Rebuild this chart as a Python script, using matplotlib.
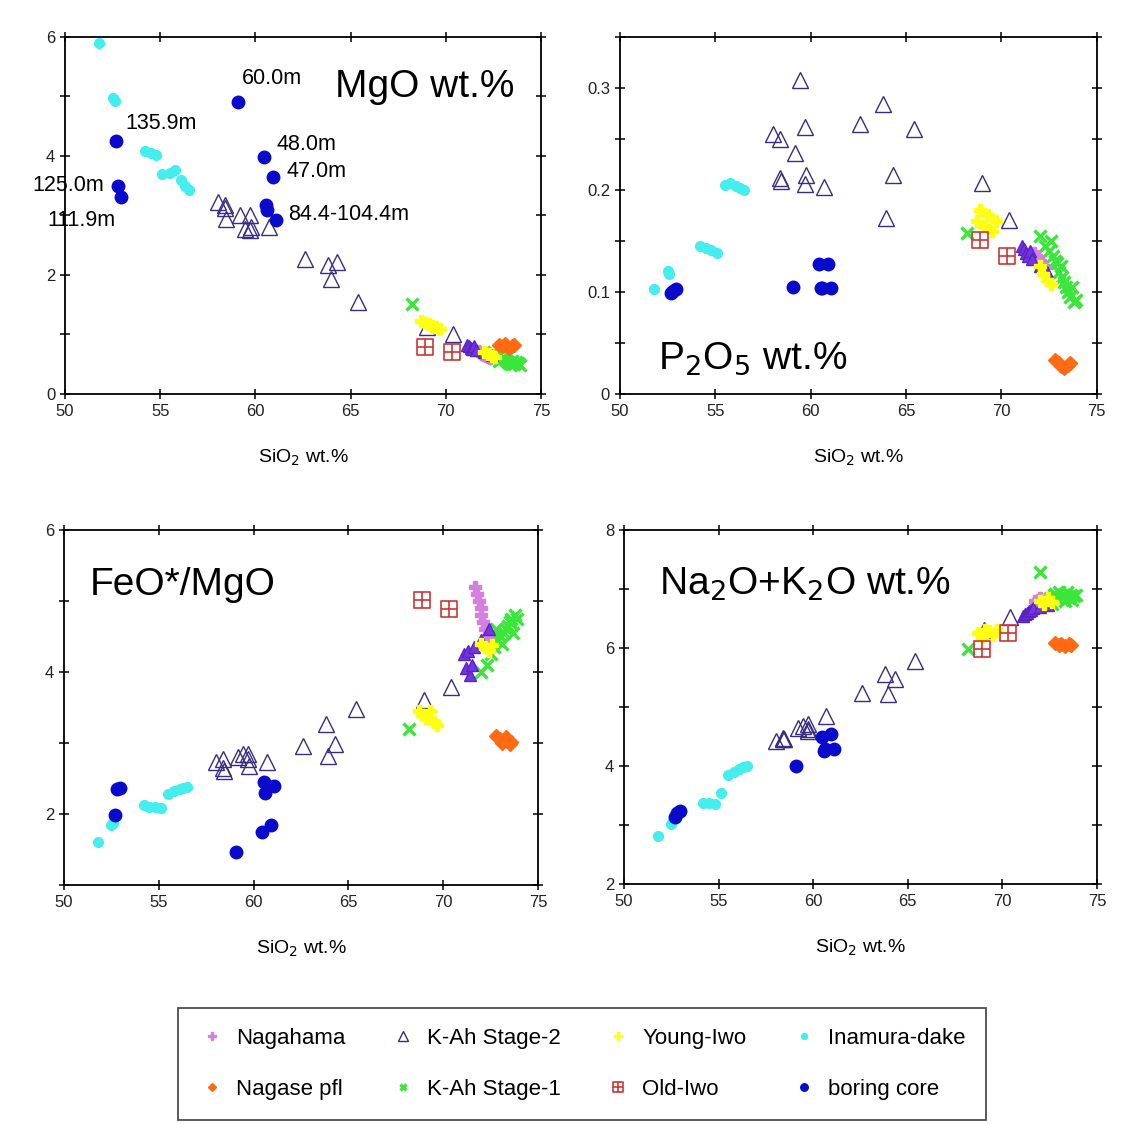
import matplotlib.pyplot as plt
import numpy as np
from matplotlib.path import Path

plt.rcParams['font.family'] = ['Liberation Sans', 'DejaVu Sans']

# boring core samples
core_si = [59.09, 52.68, 60.45, 60.92, 52.78, 52.95, 60.56, 60.62, 61.08]
core_mgo = [4.91, 4.25, 3.98, 3.65, 3.50, 3.31, 3.18, 3.10, 2.92]
core_p2o5 = [0.105, 0.099, 0.127, 0.127, 0.101, 0.103, 0.104, 0.104, 0.104]
core_fm = [1.46, 1.99, 1.75, 1.84, 2.35, 2.36, 2.45, 2.30, 2.40]
core_alk = [4.00, 3.13, 4.49, 4.55, 3.20, 3.24, 4.26, 4.28, 4.29]
core_depth = ['60.0m', '135.9m', '48.0m', '47.0m', '125.0m', '111.9m', '', '', '84.4-104.4m']

# Inamura-dake
ina_si = [51.8, 52.5, 52.6, 54.2, 54.5, 54.8, 55.1, 55.5, 55.8, 56.1, 56.3, 56.5]
ina_mgo = [5.90, 4.97, 4.93, 4.08, 4.05, 4.02, 3.70, 3.72, 3.76, 3.60, 3.50, 3.42]
ina_p2o5 = [0.103, 0.121, 0.118, 0.145, 0.143, 0.141, 0.138, 0.205, 0.207, 0.204, 0.202, 0.200]
ina_fm = [1.60, 1.85, 1.88, 2.12, 2.10, 2.10, 2.08, 2.28, 2.32, 2.35, 2.37, 2.38]
ina_alk = [2.82, 3.02, 3.08, 3.38, 3.38, 3.36, 3.55, 3.85, 3.90, 3.95, 3.98, 4.00]

# K-Ah Stage-2
st2_si = [58.03, 58.4, 58.4, 58.45, 59.18, 59.45, 59.7, 59.75, 59.7, 60.7,
          62.6, 63.8, 63.95, 64.3, 65.4, 69.0, 70.4]
st2_mgo = [3.22, 3.17, 3.12, 2.94, 3.00, 2.78, 3.00, 2.80, 2.75, 2.80,
           2.27, 2.16, 1.93, 2.22, 1.55, 1.12, 1.00]
st2_p2o5 = [0.255, 0.250, 0.212, 0.209, 0.236, 0.308, 0.262, 0.215, 0.206, 0.203,
            0.265, 0.284, 0.173, 0.215, 0.260, 0.207, 0.171]
st2_fm = [2.73, 2.78, 2.65, 2.61, 2.80, 2.85, 2.85, 2.68, 2.78, 2.73,
          2.96, 3.27, 2.82, 2.99, 3.48, 3.60, 3.79]
st2_alk = [4.43, 4.46, 4.48, 4.45, 4.65, 4.68, 4.71, 4.60, 4.62, 4.85,
           5.23, 5.56, 5.22, 5.47, 5.78, 6.30, 6.52]

# K-Ah Stage-2, rhyolitic cluster
st2r_si = [71.1, 71.2, 71.3, 71.4, 71.5, 71.6, 72.0, 72.4]
st2r_mgo = [0.82, 0.80, 0.78, 0.76, 0.80, 0.74, 0.70, 0.66]
st2r_p2o5 = [0.145, 0.142, 0.138, 0.135, 0.140, 0.132, 0.125, 0.120]
st2r_fm = [4.25, 4.05, 4.30, 3.95, 4.10, 4.35, 4.45, 4.60]
st2r_alk = [6.55, 6.58, 6.60, 6.62, 6.65, 6.68, 6.70, 6.72]

# Nagahama
nag_si = [71.7, 71.8, 71.9, 72.0, 72.0, 72.1, 72.2, 72.3]
nag_mgo = [0.72, 0.70, 0.68, 0.66, 0.65, 0.64, 0.62, 0.60]
nag_p2o5 = [0.138, 0.135, 0.132, 0.130, 0.128, 0.127, 0.125, 0.124]
nag_fm = [5.20, 5.10, 5.00, 4.90, 4.80, 4.70, 4.60, 4.50]
nag_alk = [6.80, 6.78, 6.82, 6.76, 6.84, 6.80, 6.78, 6.75]

# Young-Iwo
yi_si = [68.7, 68.9, 69.1, 69.3, 69.5, 69.7, 72.0, 72.2, 72.4, 72.6]
yi_mgo = [1.22, 1.20, 1.18, 1.15, 1.12, 1.10, 0.70, 0.68, 0.64, 0.62]
yi_p2o5 = [0.170, 0.180, 0.165, 0.175, 0.160, 0.170, 0.125, 0.118, 0.112, 0.108]
yi_fm = [3.45, 3.40, 3.35, 3.45, 3.30, 3.25, 4.40, 4.35, 4.30, 4.38]
yi_alk = [6.25, 6.20, 6.30, 6.28, 6.22, 6.30, 6.80, 6.75, 6.85, 6.78]

# Nagase pfl
ngs_si = [72.8, 73.0, 73.1, 73.3, 73.5, 73.6]
ngs_mgo = [0.82, 0.80, 0.84, 0.78, 0.80, 0.83]
ngs_p2o5 = [0.033, 0.030, 0.027, 0.025, 0.028, 0.030]
ngs_fm = [3.10, 3.05, 3.00, 3.08, 2.98, 3.02]
ngs_alk = [6.08, 6.05, 6.07, 6.04, 6.06, 6.05]

# K-Ah Stage-1
st1_si = [68.2, 72.0, 72.3, 72.5, 72.7, 72.9, 73.0, 73.2, 73.3, 73.5, 73.6, 73.8,
          72.6, 72.8, 73.1, 73.4, 73.7, 73.9]
st1_mgo = [1.52, 0.70, 0.66, 0.64, 0.62, 0.58, 0.60, 0.56, 0.52, 0.55, 0.50, 0.52,
           0.60, 0.55, 0.58, 0.50, 0.54, 0.49]
st1_p2o5 = [0.158, 0.155, 0.145, 0.140, 0.135, 0.128, 0.120, 0.115, 0.110, 0.100, 0.095, 0.090,
            0.150, 0.130, 0.125, 0.105, 0.105, 0.092]
st1_fm = [3.20, 4.00, 4.10, 4.25, 4.35, 4.45, 4.50, 4.55, 4.60, 4.70, 4.75, 4.80,
          4.45, 4.60, 4.40, 4.65, 4.55, 4.75]
st1_alk = [5.98, 7.28, 6.80, 6.85, 6.90, 6.85, 6.95, 6.90, 6.80, 6.85, 6.90, 6.88,
           6.75, 6.92, 6.88, 6.95, 6.82, 6.90]

# Old-Iwo
oi_si = [68.9, 70.3]
oi_mgo = [0.79, 0.70]
oi_p2o5 = [0.151, 0.135]
oi_fm = [5.01, 4.89]
oi_alk = [5.98, 6.26]

# square with a cross inside, for Old-Iwo
sq_plus = Path([(-1, -1), (1, -1), (1, 1), (-1, 1), (-1, -1),
                (-1, 0), (1, 0), (0, -1), (0, 1)],
               [Path.MOVETO, Path.LINETO, Path.LINETO, Path.LINETO, Path.CLOSEPOLY,
                Path.MOVETO, Path.LINETO, Path.MOVETO, Path.LINETO])

fig = plt.figure(figsize=(11.29, 11.24), dpi=100)
ax1 = fig.add_axes([0.0576, 0.6495, 0.4216, 0.3176])
ax2 = fig.add_axes([0.549, 0.6495, 0.4225, 0.3176])
ax3 = fig.add_axes([0.0567, 0.2126, 0.4198, 0.316])
ax4 = fig.add_axes([0.5527, 0.2135, 0.419, 0.315])

panels = [
    (ax1, 'mgo', (0, 6), np.arange(0, 7, 1), ['0', '', '2', '', '4', '', '6'],
     'MgO wt.%', (0.567, 0.832)),
    (ax2, 'p2o5', (0, 0.35), np.arange(0, 0.351, 0.05), ['0', '', '0.1', '', '0.2', '', '0.3', ''],
     'P$_2$O$_5$ wt.%', (0.08, 0.07)),
    (ax3, 'fm', (1, 6), np.arange(1, 7, 1), ['', '2', '', '4', '', '6'],
     'FeO*/MgO', (0.055, 0.817)),
    (ax4, 'alk', (2, 8), np.arange(2, 9, 1), ['2', '', '4', '', '6', '', '8'],
     'Na$_2$O+K$_2$O wt.%', (0.075, 0.818)),
]

groups = {
    'ina': (ina_si, dict(mgo=ina_mgo, p2o5=ina_p2o5, fm=ina_fm, alk=ina_alk)),
    'st2': (st2_si, dict(mgo=st2_mgo, p2o5=st2_p2o5, fm=st2_fm, alk=st2_alk)),
    'st2r': (st2r_si, dict(mgo=st2r_mgo, p2o5=st2r_p2o5, fm=st2r_fm, alk=st2r_alk)),
    'core': (core_si, dict(mgo=core_mgo, p2o5=core_p2o5, fm=core_fm, alk=core_alk)),
    'st1': (st1_si, dict(mgo=st1_mgo, p2o5=st1_p2o5, fm=st1_fm, alk=st1_alk)),
    'nag': (nag_si, dict(mgo=nag_mgo, p2o5=nag_p2o5, fm=nag_fm, alk=nag_alk)),
    'yi': (yi_si, dict(mgo=yi_mgo, p2o5=yi_p2o5, fm=yi_fm, alk=yi_alk)),
    'ngs': (ngs_si, dict(mgo=ngs_mgo, p2o5=ngs_p2o5, fm=ngs_fm, alk=ngs_alk)),
    'oi': (oi_si, dict(mgo=oi_mgo, p2o5=oi_p2o5, fm=oi_fm, alk=oi_alk)),
}

styles = {
    'ina': dict(marker='o', ms=7, mfc='#44eeee', mec='#44eeee', label='Inamura-dake'),
    'st2': dict(marker='^', ms=11, mfc='none', mec='#3a2c80', mew=1.0, label='K-Ah Stage-2'),
    'st2r': dict(marker='^', ms=8, mfc='#7435e0', mec='#5a22c4', mew=1.0),
    'st1': dict(marker='x', ms=8, mec='#3be63b', mew=2.4, label='K-Ah Stage-1'),
    'nag': dict(marker='P', ms=9, mfc='#d57fe0', mec='#d57fe0', label='Nagahama'),
    'yi': dict(marker='P', ms=9, mfc='#ffff10', mec='#ffff10', label='Young-Iwo'),
    'ngs': dict(marker='D', ms=7, mfc='#ff6a12', mec='#ff6a12', label='Nagase pfl'),
    'oi': dict(marker=sq_plus, ms=11, mfc='none', mec='#d03535', mew=1.2, label='Old-Iwo'),
    'core': dict(marker='o', ms=9, mfc='#0a0acc', mec='#0a0acc', label='boring core'),
}

draw_order = ['ina', 'st2', 'st1', 'nag', 'st2r', 'yi', 'ngs', 'oi', 'core']

handles = {}
for ax, key, ylim, yticks, ylabels, title, tpos in panels:
    for g in draw_order:
        si, vals = groups[g]
        ln, = ax.plot(si, vals[key], linestyle='none', **styles[g])
        handles[g] = ln
    ax.set_xlim(50, 75)
    ax.set_ylim(*ylim)
    ax.set_xticks(np.arange(50, 76, 5))
    ax.set_yticks(yticks)
    ax.set_yticklabels(ylabels)
    ax.tick_params(direction='inout', length=7, width=1.1, labelsize=12,
                   top=True, right=True, labelcolor='#222222')
    for s in ax.spines.values():
        s.set_linewidth(1.3)
    ax.set_xlabel('SiO$_2$ wt.%', fontsize=14, labelpad=21)
    ax.text(tpos[0], tpos[1], title, transform=ax.transAxes, fontsize=28,
            ha='left', va='baseline')

# depth labels for the boring core, MgO diagram
offsets = [(3, 17), (7, 13), (9, 9), (10, 4), (-10, 0), (-4, -17), (0, 0), (0, 0), (9, 4)]
for x, y, lab, off in zip(core_si, core_mgo, core_depth, offsets):
    if not lab:
        continue
    ax1.annotate(lab, (x, y), xytext=off, textcoords='offset points', fontsize=15.5,
                 ha='right' if off[0] < 0 else 'left', va='center', annotation_clip=False)

order = ['nag', 'ngs', 'st2', 'st1', 'yi', 'oi', 'ina', 'core']
leg = fig.legend([handles[g] for g in order], [styles[g]['label'] for g in order],
                 ncol=4, loc='upper left', bbox_to_anchor=(0.158, 0.103, 0.715, 0.0),
                 mode='expand', fontsize=16, markerscale=0.6, frameon=True,
                 fancybox=False, edgecolor='#222222', borderpad=0.9,
                 labelspacing=1.35, handletextpad=0.5, handlelength=1.2,
                 borderaxespad=0.0)
leg.get_frame().set_linewidth(1.3)

fig.savefig('out.png', dpi=100)
